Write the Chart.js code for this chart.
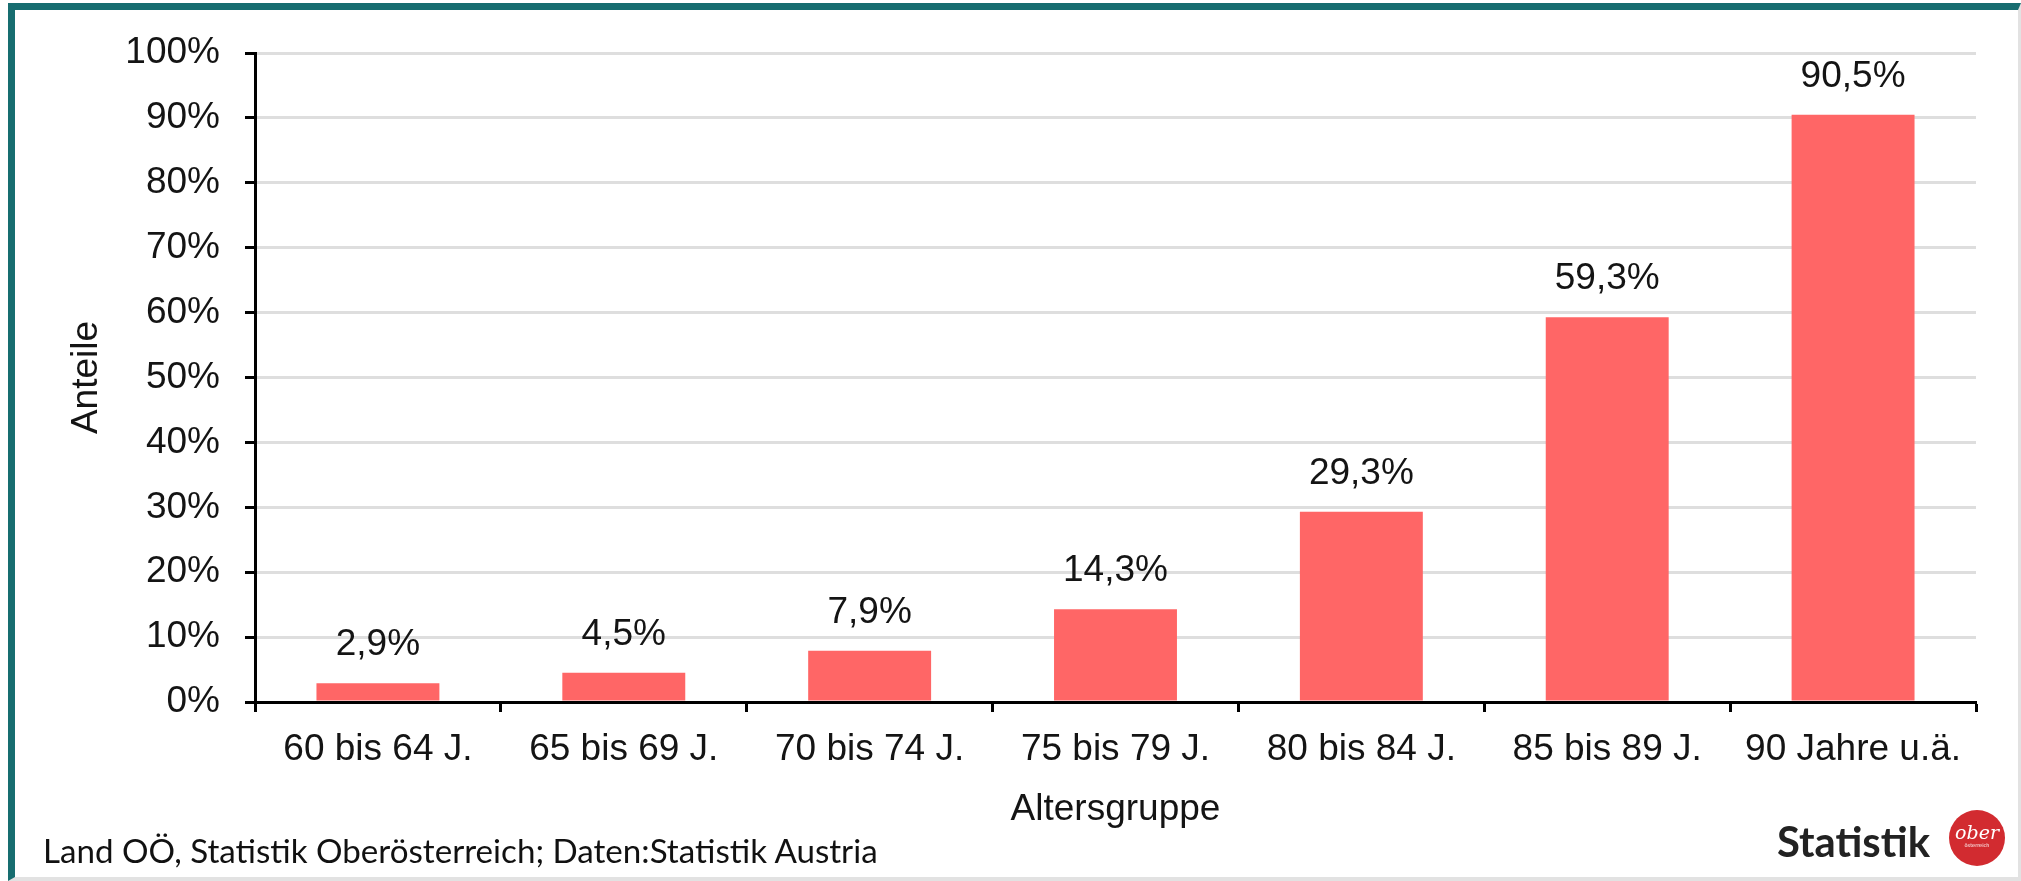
<!DOCTYPE html>
<html>
<head>
<meta charset="utf-8">
<script src="https://cdn.jsdelivr.net/npm/chart.js@4.4.1/dist/chart.umd.min.js"></script>
<style>
    html, body { margin: 0; padding: 0; background: #fff; }
    body { width: 2021px; height: 881px; position: relative; overflow: hidden; }
    .frame {
        position: absolute; left: 8px; top: 3px; right: 0; bottom: 0;
        border-top: 7px solid #176d70; border-left: 7px solid #176d70;
        border-right: 3px solid #e2e2e2; border-bottom: 4px solid #e2e2e2;
    }
    #chart { position: absolute; left: 0; top: 0; }
    .source {
        position: absolute; left: 43px; top: 830px;
        font-family: Lato, sans-serif; font-size: 28px; color: #111; white-space: nowrap;
    }
    .brand {
        position: absolute; left: 1777px; top: 816px;
        font-family: Lato, sans-serif; font-weight: bold; font-size: 37px; color: #222; white-space: nowrap;
    }
    .badge {
        position: absolute; left: 1949px; top: 810px; width: 56px; height: 56px; border-radius: 50%;
        background: #d22b30; color: #fff; text-align: center;
    }
    .badge .big { font-family: "DejaVu Serif", serif; font-style: italic; font-size: 19px; line-height: 19px; margin-top: 13px; }
    .badge .small { font-family: "DejaVu Sans", sans-serif; font-size: 5px; line-height: 6px; }
</style>
</head>
<body>
<div class="frame"></div>
<canvas id="chart" width="2021" height="881"></canvas>
<div class="source" id="source">Land OÖ, Statistik Oberösterreich; Daten:Statistik Austria</div>
<div class="brand" id="brand">Statistik</div>
<div class="badge"><div class="big">ober</div><div class="small">österreich</div></div>

<script>
// Anteile nach Altersgruppe
const categories = ['60 bis 64 J.', '65 bis 69 J.', '70 bis 74 J.', '75 bis 79 J.', '80 bis 84 J.', '85 bis 89 J.', '90 Jahre u.ä.'];
const shares = [2.9, 4.5, 7.9, 14.3, 29.3, 59.3, 90.5];
const yMin = 0;
const yMax = 100;
const yStep = 10;

const textColor = '#141414';
const barColor = '#ff6666';
const fontFamily = '"Liberation Sans", Arial, sans-serif';
const fontSize = 37;

function formatPercent(v) {
    return v.toFixed(1).replace('.', ',') + '%';
}

// value labels above the bars
const valueLabels = {
    id: 'valueLabels',
    afterDatasetsDraw(chart) {
        const ctx = chart.ctx;
        const meta = chart.getDatasetMeta(0);
        ctx.save();
        ctx.font = fontSize + 'px ' + fontFamily;
        ctx.fillStyle = textColor;
        ctx.textAlign = 'center';
        ctx.textBaseline = 'alphabetic';
        meta.data.forEach((bar, i) => {
            ctx.fillText(formatPercent(shares[i]), bar.x, bar.y - 28);
        });
        ctx.restore();
    }
};

function fitWidth(id, target) {
    const el = document.getElementById(id);
    const size = parseFloat(getComputedStyle(el).fontSize);
    el.style.fontSize = (size * target / el.getBoundingClientRect().width) + 'px';
}

document.addEventListener('DOMContentLoaded', function() {
    fitWidth('source', 835);
    fitWidth('brand', 153);

    new Chart(document.getElementById('chart'), {
        type: 'bar',
        data: {
            labels: categories,
            datasets: [{
                data: shares,
                backgroundColor: barColor,
                borderWidth: 0,
                barPercentage: 0.5,
                categoryPercentage: 1.0
            }]
        },
        options: {
            responsive: false,
            animation: false,
            devicePixelRatio: 1,
            layout: { padding: { top: 53, right: 45, bottom: 0, left: 0 } },
            plugins: {
                legend: { display: false },
                tooltip: { enabled: false }
            },
            scales: {
                x: {
                    afterFit: function(scale) { scale.height = 179; },
                    grid: {
                        offset: true,
                        drawOnChartArea: false,
                        drawTicks: true,
                        tickLength: 10,
                        tickColor: '#000',
                        tickWidth: 3
                    },
                    border: { color: '#000', width: 3 },
                    ticks: {
                        color: textColor,
                        padding: 16,
                        maxRotation: 0,
                        font: { family: fontFamily, size: fontSize }
                    },
                    title: {
                        display: true,
                        text: 'Altersgruppe',
                        color: textColor,
                        font: { family: fontFamily, size: fontSize },
                        padding: { top: 0, bottom: 49 }
                    }
                },
                y: {
                    min: yMin,
                    max: yMax,
                    afterFit: function(scale) { scale.width = 255; },
                    grid: {
                        color: '#dedede',
                        lineWidth: 3,
                        drawTicks: true,
                        tickLength: 10,
                        tickColor: '#000',
                        tickWidth: 3
                    },
                    border: { color: '#000', width: 3 },
                    ticks: {
                        stepSize: yStep,
                        color: textColor,
                        padding: 25,
                        font: { family: fontFamily, size: fontSize },
                        callback: function(value) { return value + '%'; }
                    },
                    title: {
                        display: true,
                        text: 'Anteile',
                        color: textColor,
                        font: { family: fontFamily, size: fontSize },
                        padding: { top: 65, bottom: 0 }
                    }
                }
            }
        },
        plugins: [valueLabels]
    });
});
</script>
</body>
</html>
